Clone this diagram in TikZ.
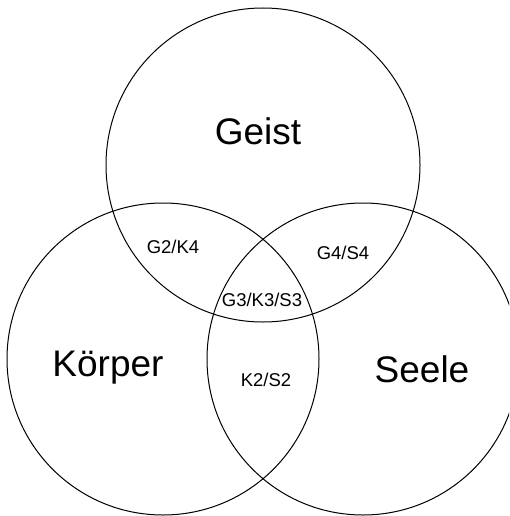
\documentclass[tikz,border=0pt]{standalone}
\usepackage{fontspec}
\setmainfont{Liberation Sans}
\begin{document}
\begin{tikzpicture}[x=1pt,y=-1pt,
  ring/.style={line width=1pt},
  big/.style={font=\fontsize{37}{44}\selectfont},
  small/.style={font=\fontsize{18.5}{22}\selectfont}]
\useasboundingbox (0,0) rectangle (509,516);
\begin{scope}
\clip (0,0) rectangle (509,516);
\draw[ring] (263,165) circle[radius=157];
\draw[ring] (163,359) circle[radius=156];
\draw[ring] (363,359) circle[radius=156];
\end{scope}
\node[big] (geist) at (258,131) {Geist};
\node[big] (koerper) at (108,368) {Körper};
\node[big] (seele) at (422,369) {Seele};
\node[small] (g2k4) at (173,247) {G2/K4};
\node[small] (g4s4) at (343,253) {G4/S4};
\node[small] (g3k3s3) at (262,300) {G3/K3/S3};
\node[small] (k2s2) at (266,380) {K2/S2};
\end{tikzpicture}
\end{document}
